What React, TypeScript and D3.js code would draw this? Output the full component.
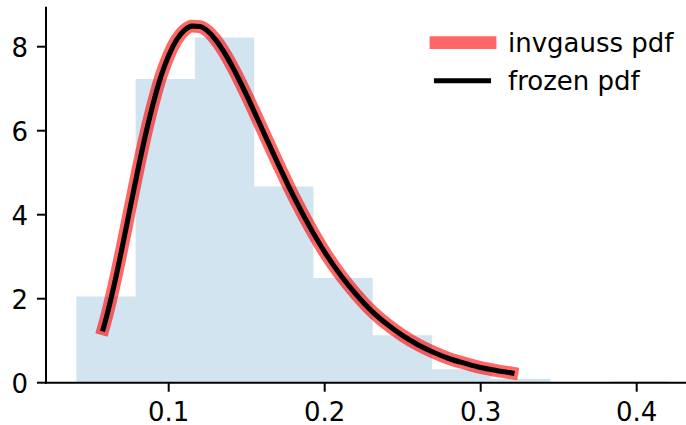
import React from "react";
import * as d3 from "d3";

// Histogram (density) bin edges and heights
const binEdges = [0.0408, 0.0788, 0.1168, 0.1548, 0.1928, 0.2308, 0.2688, 0.3068, 0.3448, 0.3828, 0.4208];
const binHeights = [2.05, 7.23, 8.22, 4.67, 2.49, 1.13, 0.32, 0.095, 0, 0.026];

// pdf curve
const pdfX = [0.058, 0.06, 0.065, 0.07, 0.075, 0.08, 0.085, 0.09, 0.095, 0.10, 0.105, 0.11, 0.115, 0.12, 0.125, 0.13, 0.135, 0.14, 0.15, 0.16, 0.17, 0.18, 0.19, 0.20, 0.21, 0.22, 0.23, 0.24, 0.25, 0.26, 0.27, 0.28, 0.29, 0.30, 0.31, 0.32];
const pdfY = [1.28, 1.55, 2.32, 3.19, 4.11, 5.02, 5.88, 6.64, 7.29, 7.79, 8.16, 8.39, 8.49, 8.48, 8.37, 8.17, 7.90, 7.58, 6.84, 6.03, 5.22, 4.44, 3.74, 3.11, 2.57, 2.11, 1.71, 1.39, 1.12, 0.90, 0.72, 0.57, 0.46, 0.36, 0.29, 0.23];

const xTicks = [0.1, 0.2, 0.3, 0.4];
const yTicks = [0, 2, 4, 6, 8];
const legendLabels = ["invgauss pdf", "frozen pdf"];

const W = 686;
const H = 425;
const FONT = "'DejaVu Sans', sans-serif";
const FS = 26;

export default function App() {
  const x = d3.scaleLinear().domain([0.1, 0.2]).range([168.7, 324.7]);
  const y = d3.scaleLinear().domain([0, 8]).range([382.7, 46.7]);
  const left = 46;
  const bottom = y(0);
  const top = y(8.93);

  // stepfilled polygon
  const pts: [number, number][] = [[binEdges[0], 0]];
  binHeights.forEach((h, i) => {
    pts.push([binEdges[i], h]);
    pts.push([binEdges[i + 1], h]);
  });
  pts.push([binEdges[binEdges.length - 1], 0]);
  const histPath = d3.line<[number, number]>().x((d) => x(d[0])).y((d) => y(d[1]))(pts) + "Z";

  const curve = d3
    .line<number>()
    .x((_, i) => x(pdfX[i]))
    .y((d) => y(d))
    .curve(d3.curveMonotoneX)(pdfY) as string;

  const tickLen = 9;
  const pad = 9;

  return (
    <div style={{ position: "absolute", left: 0, top: 0 }}>
      <svg width={W} height={H} style={{ display: "block", background: "#fff" }}>
        <path d={histPath} fill="#1f77b4" fillOpacity={0.2} stroke="none" />
        <path d={curve} fill="none" stroke="#ff0000" strokeOpacity={0.6} strokeWidth={12.8} strokeLinecap="square" strokeLinejoin="round" />
        <path d={curve} fill="none" stroke="#000" strokeWidth={5.1} strokeLinecap="square" strokeLinejoin="round" />

        {/* spines */}
        <line x1={left} x2={left} y1={top} y2={bottom} stroke="#000" strokeWidth={2} strokeLinecap="square" />
        <line x1={left} x2={W} y1={bottom} y2={bottom} stroke="#000" strokeWidth={2} strokeLinecap="square" />

        {xTicks.map((t) => (
          <g key={"x" + t}>
            <line x1={x(t)} x2={x(t)} y1={bottom} y2={bottom + tickLen} stroke="#000" strokeWidth={2} />
            <text x={x(t)} y={421} textAnchor="middle" fontFamily={FONT} fontSize={FS} fill="#000">
              {t.toFixed(1)}
            </text>
          </g>
        ))}
        {yTicks.map((t) => (
          <g key={"y" + t}>
            <line x1={left - tickLen} x2={left} y1={y(t)} y2={y(t)} stroke="#000" strokeWidth={2} />
            <text x={left - tickLen - pad} y={y(t) + 10} textAnchor="end" fontFamily={FONT} fontSize={FS} fill="#000">
              {t}
            </text>
          </g>
        ))}

        {/* legend */}
        <line x1={436} x2={490} y1={42.7} y2={42.7} stroke="#ff0000" strokeOpacity={0.6} strokeWidth={12.8} strokeLinecap="square" />
        <line x1={436.5} x2={488.5} y1={80.7} y2={80.7} stroke="#000" strokeWidth={5.1} strokeLinecap="square" />
        <text x={508} y={51.5} fontFamily={FONT} fontSize={FS} fill="#000">{legendLabels[0]}</text>
        <text x={508} y={89.5} fontFamily={FONT} fontSize={FS} fill="#000">{legendLabels[1]}</text>
      </svg>
    </div>
  );
}
